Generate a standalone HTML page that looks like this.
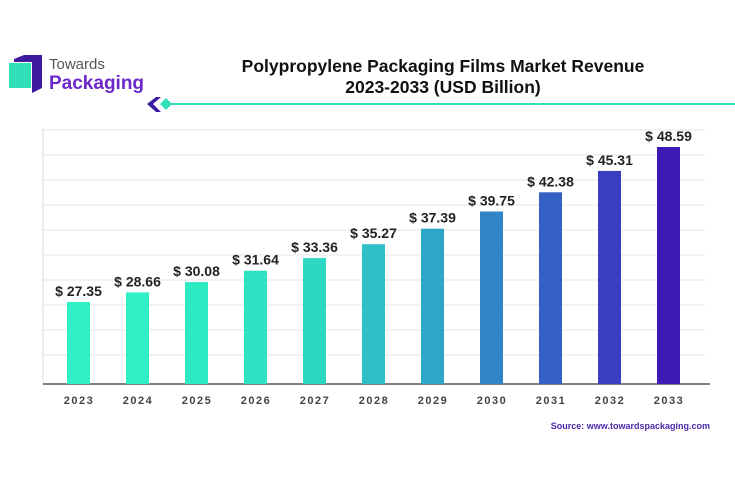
<!DOCTYPE html>
<html><head><meta charset="utf-8"><style>
body{margin:0;background:#fff;width:735px;height:485px;overflow:hidden;font-family:"Liberation Sans",sans-serif}
</style></head><body>
<svg width="735" height="485" viewBox="0 0 735 485" xmlns="http://www.w3.org/2000/svg" font-family="Liberation Sans, sans-serif">
<rect width="735" height="485" fill="#fff"/>
<polygon points="14,59 24,55 42,55 42,88 32,93 32,62 14,62" fill="#3d1a9e"/>
<rect x="9" y="63" width="22" height="25" fill="#2fe0b8"/>
<text x="49" y="69" font-size="15" fill="#555">Towards</text>
<text x="49" y="89" font-size="19" font-weight="bold" fill="#6a28c8">Packaging</text>
<polygon points="156,97 147,104 156,112 161,112 153,104 161,97" fill="#3d1a9e"/>
<polygon points="166,98 172,104 166,110 160,104" fill="#2fe0b8"/>
<line x1="170" y1="104" x2="735" y2="104" stroke="#2fe0b8" stroke-width="2"/>
<text x="443" y="72" font-size="17.5" font-weight="bold" text-anchor="middle" fill="#111">Polypropylene Packaging Films Market Revenue</text>
<text x="443" y="93" font-size="17.5" font-weight="bold" text-anchor="middle" fill="#111">2023-2033 (USD Billion)</text>
<g stroke="#e6e6e6" stroke-width="1">
<line x1="43" x2="705" y1="130" y2="130"/><line x1="43" x2="705" y1="155" y2="155"/>
<line x1="43" x2="705" y1="180" y2="180"/><line x1="43" x2="705" y1="205" y2="205"/>
<line x1="43" x2="705" y1="230" y2="230"/><line x1="43" x2="705" y1="255" y2="255"/>
<line x1="43" x2="705" y1="280" y2="280"/><line x1="43" x2="705" y1="305" y2="305"/>
<line x1="43" x2="705" y1="330" y2="330"/><line x1="43" x2="705" y1="355" y2="355"/>
</g>
<line x1="43" y1="128" x2="43" y2="384" stroke="#ddd"/>
<line x1="43" y1="384" x2="710" y2="384" stroke="#555" stroke-width="1.5"/>
<g>
<rect x="67" y="302" width="23" height="82" fill="#30f0c6"/>
<rect x="126" y="292.4" width="23" height="91.6" fill="#2fefc4"/>
<rect x="185" y="282.1" width="23" height="101.9" fill="#2eeac3"/>
<rect x="244" y="270.7" width="23" height="113.3" fill="#2ee2c3"/>
<rect x="303" y="258.1" width="23" height="125.9" fill="#2ed6c4"/>
<rect x="362" y="244.2" width="23" height="139.8" fill="#2ec0c6"/>
<rect x="421" y="228.7" width="23" height="155.3" fill="#2ea6c8"/>
<rect x="480" y="211.5" width="23" height="172.5" fill="#3185c6"/>
<rect x="539" y="192.3" width="23" height="191.7" fill="#3460c4"/>
<rect x="598" y="170.9" width="23" height="213.1" fill="#3a3dbf"/>
<rect x="657" y="147" width="23" height="237" fill="#3f19b3"/>
</g>
<g font-size="14" font-weight="bold" text-anchor="middle" fill="#222">
<text x="78.5" y="296">$ 27.35</text>
<text x="137.5" y="286.4">$ 28.66</text>
<text x="196.5" y="276.1">$ 30.08</text>
<text x="255.5" y="264.7">$ 31.64</text>
<text x="314.5" y="252.1">$ 33.36</text>
<text x="373.5" y="238.2">$ 35.27</text>
<text x="432.5" y="222.7">$ 37.39</text>
<text x="491.5" y="205.5">$ 39.75</text>
<text x="550.5" y="186.3">$ 42.38</text>
<text x="609.5" y="164.9">$ 45.31</text>
<text x="668.5" y="141">$ 48.59</text>
</g>
<g font-size="11" font-weight="bold" letter-spacing="1.5" text-anchor="middle" fill="#444">
<text x="79" y="404">2023</text>
<text x="138" y="404">2024</text>
<text x="197" y="404">2025</text>
<text x="256" y="404">2026</text>
<text x="315" y="404">2027</text>
<text x="374" y="404">2028</text>
<text x="433" y="404">2029</text>
<text x="492" y="404">2030</text>
<text x="551" y="404">2031</text>
<text x="610" y="404">2032</text>
<text x="669" y="404">2033</text>
</g>
<text x="710" y="429" font-size="9" font-weight="bold" text-anchor="end" fill="#4a2aa8">Source: www.towardspackaging.com</text>
</svg>
</body></html>
